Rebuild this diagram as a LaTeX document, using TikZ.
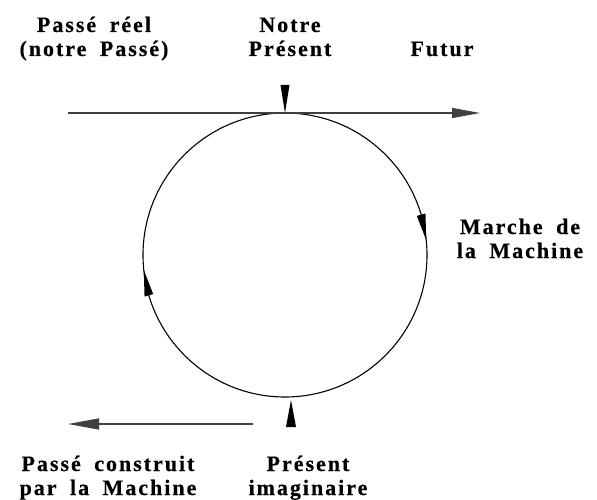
\documentclass[tikz,border=0pt]{standalone}
\usepackage{fontspec}
\usetikzlibrary{arrows.meta,calc}
\newfontfamily\lblfont{Liberation Serif}[BoldFont={Liberation Serif Bold},BoldFeatures={FakeBold=0.4},LetterSpace=9,WordSpace=1.8]
\begin{document}
\begin{tikzpicture}[x=1pt,y=-1pt,
  lbl/.style={font=\lblfont\bfseries\fontsize{22}{24}\selectfont, align=center, inner sep=0pt, anchor=base},
  axis/.style={black!75, line width=1.3pt},
  tip/.style={-{Triangle[length=28pt,width=10pt]}},
  marker/.style={fill=black, draw=none}]
\useasboundingbox (0,0) rectangle (597,500);
% circle
\coordinate (c) at (285,255);
\draw[line width=1.1pt] (c) circle[radius=142];
% arrowheads on the circle (clockwise travel)
\fill[marker] ($(c)+(-6:142)$) -- ($(c)+(-16.5:146.5)$) -- ($(c)+(-16.5:137.5)$) -- cycle;
\fill[marker] ($(c)+(174:142)$) -- ($(c)+(163.5:146.5)$) -- ($(c)+(163.5:137.5)$) -- cycle;
% top axis
\coordinate (tl) at (68,113);
\coordinate (tr) at (480,113);
\draw[axis,tip] (tl) -- (tr);
% bottom axis
\coordinate (br) at (253,424);
\coordinate (bl) at (68,424);
\draw[axis,-{Triangle[length=31pt,width=11pt]}] (br) -- (bl);
% markers
\coordinate (mt) at (285,113);
\fill[marker] (mt) -- ++(-4.5,-28) -- ++(9,0) -- cycle;
\coordinate (mb) at (291,400);
\fill[marker] (mb) -- ++(-5,27) -- ++(10,0) -- cycle;
% labels
\node[lbl] (past) at (94,56) {Passé réel\\(notre Passé)};
\node[lbl] (present) at (290,56) {Notre\\Présent};
\node[lbl] (futur) at (442,56) {Futur};
\node[lbl] (marche) at (520,258) {Marche de\\la Machine};
\node[lbl] (construit) at (108,495) {Passé construit\\par la Machine};
\node[lbl] (imag) at (308,495) {Présent\\imaginaire};
\end{tikzpicture}
\end{document}
